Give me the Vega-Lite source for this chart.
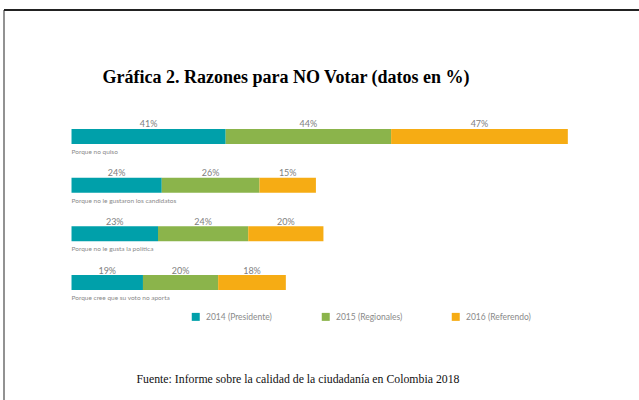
{
  "$schema": "https://vega.github.io/schema/vega-lite/v6.json",
  "width": 636,
  "height": 390.5,
  "autosize": {"type": "none"},
  "padding": {"left": 3.5, "top": 9.5, "right": 0, "bottom": 0},
  "background": "white",
  "config": {"view": {"stroke": null}, "font": "Lato", "axis": {"grid": false}},
  "data": {
    "values": [
      {"razon": "Porque no quiso", "serie": "2014 (Presidente)", "valor": 0.41},
      {"razon": "Porque no quiso", "serie": "2015 (Regionales)", "valor": 0.44},
      {"razon": "Porque no quiso", "serie": "2016 (Referendo)", "valor": 0.47},
      {"razon": "Porque no le gustaron los candidatos", "serie": "2014 (Presidente)", "valor": 0.24},
      {"razon": "Porque no le gustaron los candidatos", "serie": "2015 (Regionales)", "valor": 0.26},
      {"razon": "Porque no le gustaron los candidatos", "serie": "2016 (Referendo)", "valor": 0.15},
      {"razon": "Porque no le gusta la política", "serie": "2014 (Presidente)", "valor": 0.23},
      {"razon": "Porque no le gusta la política", "serie": "2015 (Regionales)", "valor": 0.24},
      {"razon": "Porque no le gusta la política", "serie": "2016 (Referendo)", "valor": 0.20},
      {"razon": "Porque cree que su voto no aporta", "serie": "2014 (Presidente)", "valor": 0.19},
      {"razon": "Porque cree que su voto no aporta", "serie": "2015 (Regionales)", "valor": 0.20},
      {"razon": "Porque cree que su voto no aporta", "serie": "2016 (Referendo)", "valor": 0.18}
    ]
  },
  "encoding": {
    "y": {
      "field": "razon",
      "type": "nominal",
      "sort": ["Porque no quiso", "Porque no le gustaron los candidatos", "Porque no le gusta la política", "Porque cree que su voto no aporta"],
      "scale": {"range": [119.5, 280.5], "paddingInner": 0.692, "paddingOuter": 0},
      "axis": null
    },
    "order": {"field": "serie", "sort": "ascending"}
  },
  "layer": [
    {
      "mark": {"type": "bar"},
      "encoding": {
        "x": {
          "field": "valor",
          "type": "quantitative",
          "stack": "zero",
          "scale": {"domain": [-0.1809, 1.5106], "nice": false, "zero": false},
          "axis": {
            "orient": "top",
            "values": [-0.1809],
            "grid": false,
            "ticks": true,
            "tickSize": -391,
            "tickColor": "#6e6e6e",
            "tickWidth": 1.5,
            "labels": false,
            "domainColor": "#222222",
            "domainWidth": 2,
            "title": "Gráfica 2. Razones para NO Votar (datos en %)",
            "titleFont": "Liberation Serif",
            "titleFontSize": 18,
            "titleFontWeight": "bold",
            "titleColor": "#000000",
            "titleX": 282,
            "titleY": 72.5,
            "titleAlign": "center",
            "titleBaseline": "alphabetic",
            "titleAngle": 0
          }
        },
        "color": {
          "field": "serie",
          "type": "nominal",
          "scale": {"domain": ["2014 (Presidente)", "2015 (Regionales)", "2016 (Referendo)"], "range": ["#00A0AA", "#8BB44B", "#F6AC14"]},
          "legend": {
            "title": null,
            "orient": "none",
            "legendX": 188,
            "legendY": 303,
            "direction": "horizontal",
            "columns": 3,
            "gridAlign": "all",
            "columnPadding": 49,
            "padding": 0,
            "symbolType": "square",
            "symbolSize": 64,
            "symbolStrokeWidth": 0,
            "labelFont": "Lato",
            "labelFontSize": 8.5,
            "labelColor": "#8a8a8a",
            "labelOffset": 6
          }
        }
      }
    },
    {
      "mark": {"type": "text", "fontSize": 9, "color": "#808080", "baseline": "alphabetic", "align": "center", "dy": -9},
      "encoding": {
        "x": {
          "field": "valor",
          "type": "quantitative",
          "stack": "zero",
          "bandPosition": 0.5,
          "axis": {
            "orient": "bottom",
            "labels": false,
            "ticks": false,
            "domain": false,
            "grid": false,
            "title": "Fuente: Informe sobre la calidad de la ciudadanía en Colombia 2018",
            "titleFont": "Liberation Serif",
            "titleFontSize": 11.8,
            "titleFontWeight": "normal",
            "titleColor": "#111111",
            "titleX": 294,
            "titleY": -17.5,
            "titleAlign": "center",
            "titleBaseline": "alphabetic",
            "titleAngle": 0
          }
        },
        "text": {"field": "valor", "type": "quantitative", "format": ".0%"}
      }
    },
    {
      "transform": [{"filter": "datum.serie == '2014 (Presidente)'"}],
      "mark": {"type": "text", "fontSize": 6.5, "color": "#8a8a8a", "baseline": "middle", "align": "left", "dy": 15.5},
      "encoding": {
        "x": {"field": "valor", "type": "quantitative", "stack": "zero", "bandPosition": 0, "axis": null},
        "text": {"field": "razon"}
      }
    }
  ],
  "resolve": {"axis": {"x": "independent"}}
}
